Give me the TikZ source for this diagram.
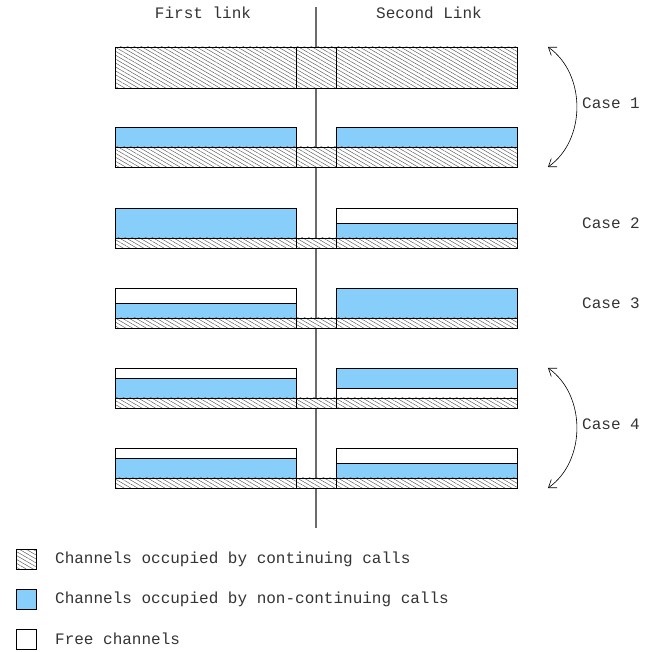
\documentclass[tikz,border=0pt]{standalone}
\usepackage{fontspec}
\setmonofont{Liberation Mono}
\usetikzlibrary{arrows.meta, patterns.meta}
\definecolor{callblue}{RGB}{135,206,250}

\begin{document}
\begin{tikzpicture}[x=1pt, y=-1pt, font=\fontsize{16}{18}\selectfont\ttfamily]
\tikzstyle{hatched} = [draw, line width=0.8pt, preaction={fill=white},
    pattern={Lines[angle=-30, distance=3.4pt, line width=0.45pt]}, pattern color=black!65]
\tikzstyle{busy} = [draw, line width=0.8pt, fill=callblue]
\tikzstyle{free} = [draw, line width=0.8pt, fill=white]
\tikzstyle{caption} = [text=black!80, inner sep=0pt]
\tikzstyle{swing} = [draw, line width=0.6pt, {Straight Barb[length=7pt, width=10pt]}-{Straight Barb[length=7pt, width=10pt]}]

\useasboundingbox (0,0) rectangle (654,652);

 % divider between the two links
 \draw [gray!85!black, line width=1.5pt] (316,7) -- (316,528);

 \node [caption] (first) at (203,13) {First link};
 \node [caption] (second) at (429,13) {Second Link};

 % case 1, all channels taken
 \path [hatched] (115,47) rectangle (296,88);
 \path [hatched] (296,47) rectangle (336,88);
 \path [hatched] (336,47) rectangle (517,88);

 \path [busy] (115,127) rectangle (296,147);
 \path [busy] (336,127) rectangle (517,147);

 % case 2
 \path [busy] (115,208) rectangle (296,238);
 \path [free] (336,208) rectangle (517,223);
 \path [busy] (336,223) rectangle (517,238);

 % case 3
 \path [free] (115,288) rectangle (296,303);
 \path [busy] (115,303) rectangle (296,318);
 \path [busy] (336,288) rectangle (517,318);

 % case 4
 \path [free] (115,368) rectangle (296,378);
 \path [busy] (115,378) rectangle (296,398);
 \path [busy] (336,368) rectangle (517,388);
 \path [free] (336,388) rectangle (517,398);

 \path [free] (115,448) rectangle (296,458);
 \path [busy] (115,458) rectangle (296,478);
 \path [free] (336,448) rectangle (517,463);
 \path [busy] (336,463) rectangle (517,478);

 % continuing calls at the bottom of each row
 \foreach \top/\bot in {147/167, 238/248, 318/328, 398/408, 478/488} {
   \path [hatched] (115,\top) rectangle (296,\bot);
   \path [hatched] (296,\top) rectangle (336,\bot);
   \path [hatched] (336,\top) rectangle (517,\bot);
 }

 \node [caption, anchor=west] (case1) at (582,103) {Case 1};
 \node [caption, anchor=west] (case2) at (582,223) {Case 2};
 \node [caption, anchor=west] (case3) at (582,303) {Case 3};
 \node [caption, anchor=west] (case4) at (582,424) {Case 4};

 \coordinate (c1a) at (548,47);
 \coordinate (c1b) at (548,167);
 \coordinate (c4a) at (548,368);
 \coordinate (c4b) at (548,488);
 \path [swing] (c1a) to [bend left=55] (c1b);
 \path [swing] (c4a) to [bend left=55] (c4b);

 % legend
 \path [hatched] (16,549) rectangle (36,569);
 \path [busy] (16,589) rectangle (36,609);
 \path [free] (16,629) rectangle (36,649);
 \node [caption, anchor=west] (keycont) at (55,559) {Channels occupied by continuing calls};
 \node [caption, anchor=west] (keynon) at (55,599) {Channels occupied by non-continuing calls};
 \node [caption, anchor=west] (keyfree) at (55,639) {Free channels};
\end{tikzpicture}
\end{document}
